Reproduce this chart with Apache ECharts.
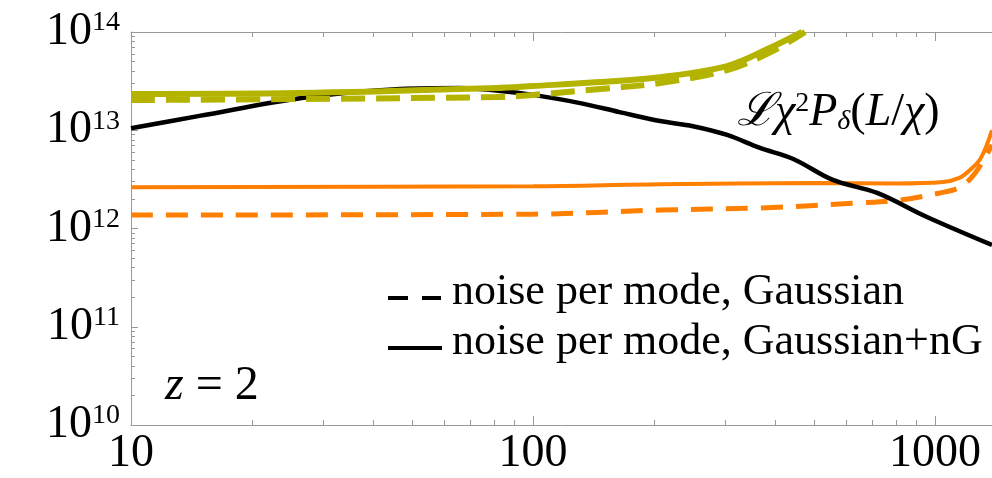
<!DOCTYPE html>
<html>
<head>
<meta charset="utf-8">
<script src="https://cdn.jsdelivr.net/npm/echarts@6/dist/echarts.min.js"></script>
<style>
  html, body { margin: 0; padding: 0; background: #fff; }
  #vis { width: 992px; height: 478px; }
</style>
</head>
<body>
<div id="vis"></div>
<script>
// multipole L values and curves
const blackL = [10, 14.8, 26.6, 46.8, 66, 83, 100, 131, 164, 207, 250, 304, 367, 444, 557, 718, 955, 1386];
const blackP = [1.05e13, 1.4e13, 2.13e13, 2.63e13, 2.69e13, 2.51e13, 2.29e13, 1.89e13, 1.53e13, 1.24e13, 1.1e13, 8.95e12, 6.6e12, 5.1e12, 3.12e12, 2.3e12, 1.31e12, 6.8e11];

const oliveSolidL = [10, 26, 81, 100, 147, 207, 304, 389, 467];
const oliveSolid = [2.34e13, 2.39e13, 2.69e13, 2.82e13, 3.09e13, 3.47e13, 4.5e13, 6.9e13, 1.0e14];
const oliveDashL = [10, 26, 81, 100, 147, 207, 304, 389, 475];
const oliveDash = [2.03e13, 2.08e13, 2.18e13, 2.29e13, 2.63e13, 3.02e13, 4.1e13, 6.2e13, 1.0e14];

const orangeSolidL = [10, 100, 207, 500, 800, 1047, 1150, 1222, 1300, 1386];
const orangeSolid = [2.63e12, 2.69e12, 2.82e12, 2.9e12, 2.87e12, 2.97e12, 3.27e12, 3.94e12, 5.2e12, 1.0e13];
const orangeDashL = [10, 100, 207, 367, 650, 819, 1028, 1153, 1259, 1386];
const orangeDash = [1.37e12, 1.40e12, 1.54e12, 1.62e12, 1.82e12, 1.95e12, 2.30e12, 2.63e12, 3.67e12, 7.1e12];

const xMajor = [10, 100, 1000];
const xMinor = [20, 30, 40, 50, 60, 70, 80, 90, 200, 300, 400, 500, 600, 700, 800, 900];
const yMajor = [1e10, 1e11, 1e12, 1e13, 1e14];
const yMinor = [];
[1e10, 1e11, 1e12, 1e13].forEach(d => { for (let k = 2; k <= 9; k++) yMinor.push(k * d); });

const legendLabels = ['noise per mode, Gaussian', 'noise per mode, Gaussian+nG'];

const X_MIN = 10, X_MAX = 1386, Y_MIN = 1e10, Y_MAX = 1e14;
const SERIF = 'Liberation Serif';
const AXIS_GRAY = '#999999';
const GRID = { left: 131, right: 0, top: 32, bottom: 53 };

const zip = (a, b) => a.map((v, i) => [v, b[i]]);

// grid 0 carries the major ticks, grid 1 (same box) the minor ones
function xAx(grid, pos, major, showLine) {
  return {
    gridIndex: grid,
    type: 'log', logBase: 10, min: X_MIN, max: X_MAX, position: pos,
    axisLine: { show: showLine, onZero: false, lineStyle: { color: AXIS_GRAY, width: 1 } },
    axisTick: { show: true, inside: true, length: major ? 9 : 5,
      customValues: major ? xMajor : xMinor, lineStyle: { color: AXIS_GRAY } },
    axisLabel: (major && pos === 'bottom') ? {
      show: true, customValues: xMajor, margin: 6,
      formatter: v => String(Math.round(v)),
      fontFamily: SERIF, fontSize: 46, color: '#000', lineHeight: 46
    } : { show: false },
    splitLine: { show: false }
  };
}

function yAx(grid, major) {
  return {
    gridIndex: grid,
    type: 'log', logBase: 10, min: Y_MIN, max: Y_MAX, position: 'left',
    axisLine: { show: major, onZero: false, lineStyle: { color: AXIS_GRAY, width: 1 } },
    axisTick: { show: true, inside: true, length: major ? 7 : 4,
      customValues: major ? yMajor : yMinor, lineStyle: { color: AXIS_GRAY } },
    axisLabel: major ? {
      show: true, customValues: yMajor, margin: 11,
      formatter: v => '{b|10}{s|' + Math.round(Math.log10(v)) + '}',
      rich: {
        b: { fontFamily: SERIF, fontSize: 46, lineHeight: 46, color: '#000' },
        s: { fontFamily: SERIF, fontSize: 28, lineHeight: 22, verticalAlign: 'top', color: '#000' }
      }
    } : { show: false },
    splitLine: { show: false }
  };
}

function line(data, color, width, dash, z) {
  return {
    type: 'line', data: data, xAxisIndex: 0, yAxisIndex: 0,
    showSymbol: false, smooth: 0.35, z: z,
    lineStyle: { color: color, width: width, type: dash || 'solid', cap: 'butt' }
  };
}

function serifText(x, y, text) {
  return {
    type: 'text', x: x, y: y,
    style: {
      text: '{t|' + text + '}', verticalAlign: 'middle',
      rich: { t: { fontFamily: SERIF, fontSize: 44, lineHeight: 44, fill: '#000' } }
    }
  };
}

const chart = echarts.init(document.getElementById('vis'), null, { renderer: 'canvas' });

chart.setOption({
  animation: false,
  backgroundColor: '#fff',
  grid: [Object.assign({}, GRID), Object.assign({}, GRID)],
  xAxis: [xAx(0, 'bottom', true, true), xAx(0, 'top', true, true), xAx(1, 'bottom', false, false), xAx(1, 'top', false, false)],
  yAxis: [yAx(0, true), yAx(1, false)],
  series: [
    line(zip(orangeDashL, orangeDash), '#ff7f00', 5, [22, 13], 2),
    line(zip(orangeSolidL, orangeSolid), '#ff7f00', 4, null, 2),
    line(zip(blackL, blackP), '#000', 4.5, null, 3),
    line(zip(oliveDashL, oliveDash), '#b4b400', 6, [24, 11], 4),
    line(zip(oliveSolidL, oliveSolid), '#b4b400', 6, null, 5)
  ],
  graphic: [
    { type: 'line', shape: { x1: 388, y1: 298, x2: 441, y2: 298 },
      style: { stroke: '#000', lineWidth: 4, lineDash: [20, 14] } },
    serifText(452, 292, legendLabels[0]),
    { type: 'line', shape: { x1: 388, y1: 348, x2: 442, y2: 348 },
      style: { stroke: '#000', lineWidth: 4 } },
    serifText(452, 342, legendLabels[1]),
    { type: 'text', x: 737, y: 113,
      style: {
        text: '{i|ℒχ}{s|2}{i|P}{d|δ}{n|(}{i|L}{n|/}{i|χ}{n|)}',
        verticalAlign: 'middle',
        rich: {
          i: { fontFamily: SERIF, fontStyle: 'italic', fontSize: 46, lineHeight: 46, fill: '#000' },
          n: { fontFamily: SERIF, fontSize: 46, lineHeight: 46, fill: '#000' },
          s: { fontFamily: SERIF, fontSize: 28, lineHeight: 22, verticalAlign: 'top', fill: '#000' },
          d: { fontFamily: SERIF, fontStyle: 'italic', fontSize: 28, lineHeight: 20, verticalAlign: 'bottom', fill: '#000' }
        }
      } },
    { type: 'text', x: 165, y: 386,
      style: {
        text: '{i|z}{n| = 2}',
        verticalAlign: 'middle',
        rich: {
          i: { fontFamily: SERIF, fontStyle: 'italic', fontSize: 48, lineHeight: 48, fill: '#000' },
          n: { fontFamily: SERIF, fontSize: 48, lineHeight: 48, fill: '#000' }
        }
      } }
  ]
});

window.addEventListener('resize', () => chart.resize());
</script>
</body>
</html>
